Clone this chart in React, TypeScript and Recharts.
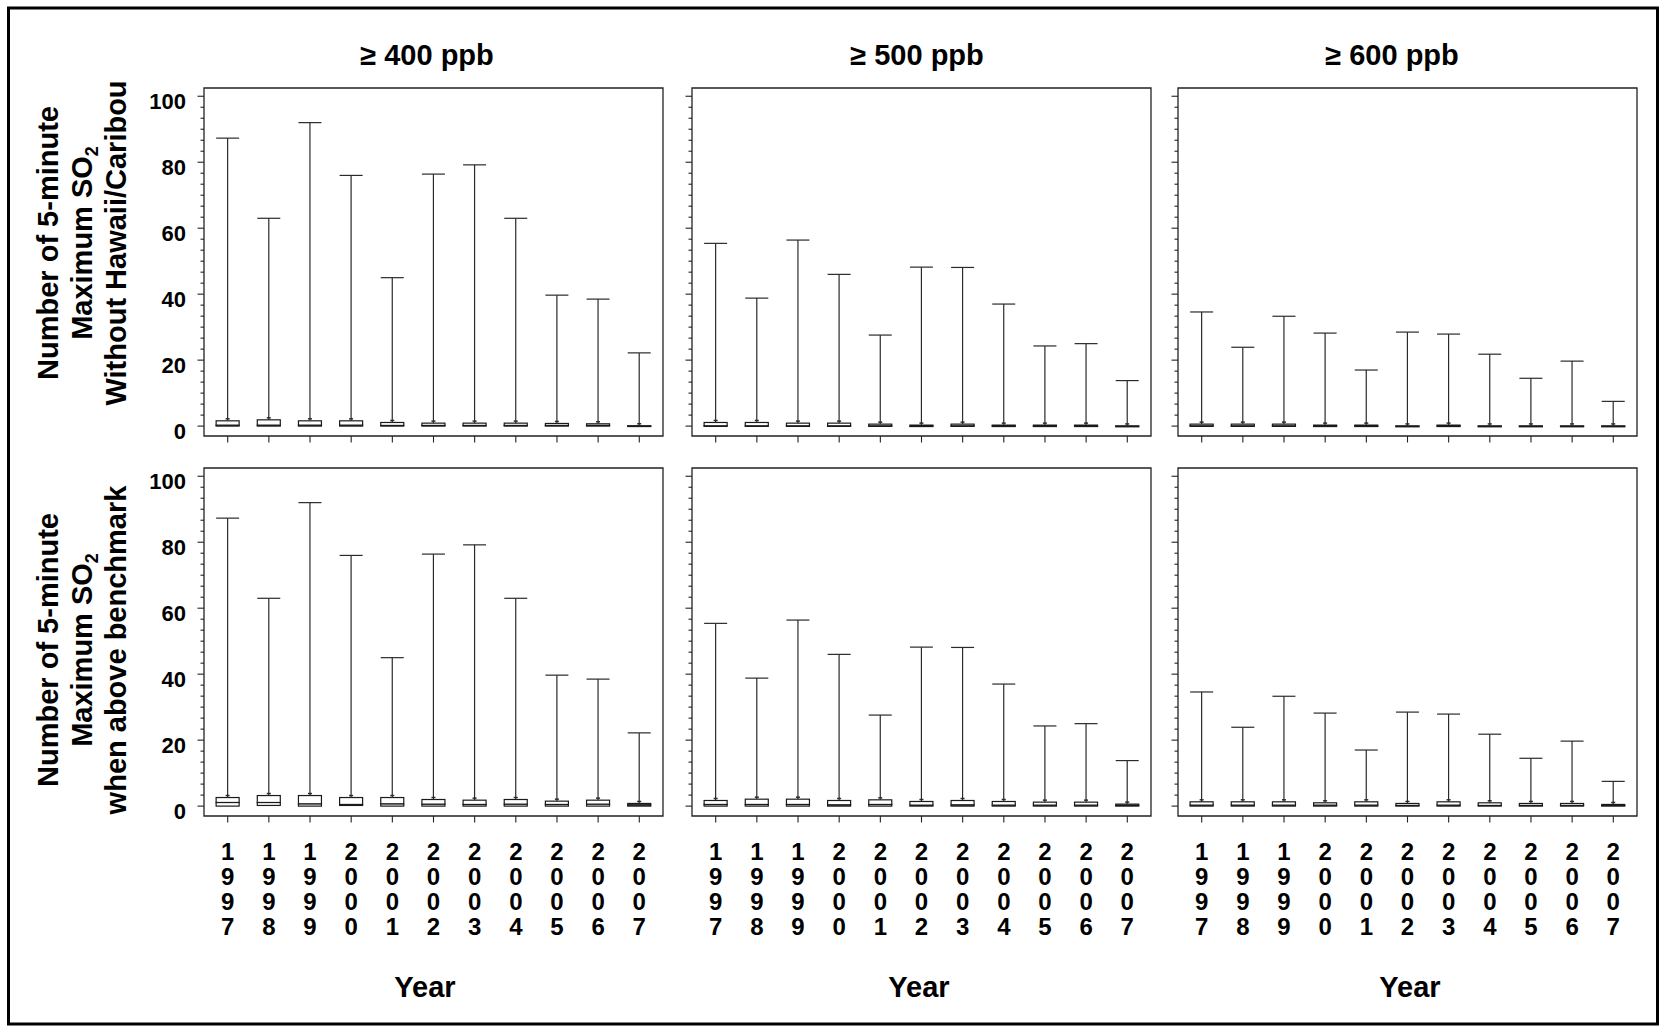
import React from "react";
import { ComposedChart, Bar, XAxis, YAxis, ReferenceArea } from "recharts";

const years = ["1997", "1998", "1999", "2000", "2001", "2002", "2003", "2004", "2005", "2006", "2007"];

// upper whisker ends (maximum count) per benchmark
const max400 = [87.3, 63, 92, 76, 45, 76.4, 79.2, 63, 39.7, 38.5, 22.2];
const max500 = [55.4, 38.8, 56.4, 46, 27.6, 48.2, 48.1, 37, 24.3, 25, 13.8];
const max600 = [34.6, 23.9, 33.3, 28.2, 17, 28.5, 27.9, 21.8, 14.5, 19.7, 7.5];

// boxes, top row: without Hawaii/Caribou
const q3_400a = [1.6, 1.9, 1.6, 1.6, 1.1, 0.9, 0.9, 0.9, 0.8, 0.7, 0.1];
const med_400a = [0.3, 0.3, 0.3, 0.3, 0.2, 0.2, 0.2, 0.2, 0.2, 0.2, 0.05];
const q3_500a = [1.1, 1.1, 0.9, 0.9, 0.6, 0.3, 0.6, 0.3, 0.3, 0.3, 0.05];
const med_500a = [0.1, 0.1, 0.1, 0.1, 0.1, 0.05, 0.1, 0.05, 0.05, 0.05, 0];
const q3_600a = [0.6, 0.6, 0.6, 0.3, 0.3, 0.05, 0.3, 0.05, 0.05, 0.05, 0.05];
const med_600a = [0.1, 0.1, 0.1, 0.05, 0.05, 0, 0.05, 0, 0, 0, 0];

// boxes, bottom row: when above benchmark
const q1_400b = [0, 0.2, 0, 0.2, 0, 0, 0, 0, 0, 0, 0];
const q3_400b = [2.6, 3.2, 3.2, 2.6, 2.6, 2.0, 1.8, 2.0, 1.5, 1.8, 0.8];
const med_400b = [1.1, 1.1, 0.7, 0.5, 0.7, 0.6, 0.5, 0.6, 0.5, 0.6, 0.4];
const q3_500b = [1.7, 2.1, 2.1, 1.7, 1.9, 1.4, 1.7, 1.4, 1.2, 1.2, 0.6];
const med_500b = [0.5, 0.5, 0.5, 0.4, 0.5, 0.3, 0.4, 0.3, 0.3, 0.3, 0.2];
const q3_600b = [1.3, 1.3, 1.3, 1.0, 1.3, 0.8, 1.3, 1.0, 0.8, 0.8, 0.5];
const med_600b = [0.3, 0.3, 0.3, 0.3, 0.3, 0.2, 0.3, 0.2, 0.2, 0.2, 0.2];
const zeros = years.map(() => 0);

const titles = ["\u2265 400 ppb", "\u2265 500 ppb", "\u2265 600 ppb"];
const yMajor = [0, 20, 40, 60, 80, 100];

const FONT = "'Liberation Sans', Arial, Helvetica, sans-serif";
const PANEL_W = 459;
const PANEL_H = 348;
const AXIS_W = 70;
const M_TOP = 10;
const M_RIGHT = 10;
const Y_MIN = -3;
const Y_MAX = 102.5;
const X_MIN = -0.576;
const X_MAX = 10.576;
const colLefts = [204, 691.5, 1178];
const rowTops = [87.5, 468];

// minor ticks: 5 between each labelled pair
const yTicks: number[] = [];
yMajor.forEach((v, i) => {
  yTicks.push(v);
  if (i < yMajor.length - 1) {
    const step = (yMajor[i + 1] - v) / 6;
    for (let k = 1; k < 6; k++) yTicks.push(v + step * k);
  }
});
const xTicks = years.map((_, i) => i);

function buildRows(q1: number[], med: number[], q3: number[], max: number[]) {
  return years.map((year, i) => ({
    idx: i,
    year,
    base: q1[i],
    lower: med[i] - q1[i],
    upper: q3[i] - med[i],
    whisk: max[i] - q3[i],
  }));
}

const panels = [
  [buildRows(zeros, med_400a, q3_400a, max400), buildRows(zeros, med_500a, q3_500a, max500), buildRows(zeros, med_600a, q3_600a, max600)],
  [buildRows(q1_400b, med_400b, q3_400b, max400), buildRows(zeros, med_500b, q3_500b, max500), buildRows(zeros, med_600b, q3_600b, max600)],
];

const BoxShape = (props: any) => {
  const { x, y, width, height } = props;
  if (x == null || y == null) return null;
  return (
    <rect x={x} y={y} width={width} height={Math.max(height, 0.6)} fill="#fff" stroke="#1a1a1a" strokeWidth={1.2} />
  );
};

const WhiskerShape = (props: any) => {
  const { x, y, width, height } = props;
  if (x == null || y == null) return null;
  const cx = x + width / 2;
  const bottom = y + height;
  return (
    <g stroke="#2a2a2a" strokeWidth={1.2}>
      <line x1={cx} y1={bottom} x2={cx} y2={y} />
      <line x1={x} y1={y} x2={x + width} y2={y} />
      <line x1={cx - 2} y1={bottom - 2} x2={cx + 2} y2={bottom - 2} strokeWidth={1.5} />
    </g>
  );
};

const YTick = (props: any) => {
  const { x, y, payload, showLabels } = props;
  const v = payload.value;
  const major = yMajor.some((m) => Math.abs(m - v) < 1e-6);
  return (
    <g>
      <line x1={x - (major ? 6.5 : 3.5)} y1={y} x2={x} y2={y} stroke="#222" strokeWidth={1.1} />
      {showLabels && major && (
        <text x={x - 18} y={y + 13} textAnchor="end" fontFamily={FONT} fontWeight="bold" fontSize={22} fill="#000">
          {Math.round(v)}
        </text>
      )}
    </g>
  );
};

const XTick = (props: any) => {
  const { x, y, payload, showLabels } = props;
  const year = years[payload.value] ?? "";
  return (
    <g>
      <line x1={x} y1={y} x2={x} y2={y + 6.5} stroke="#222" strokeWidth={1.1} />
      {showLabels &&
        year.split("").map((d, k) => (
          <text key={k} x={x} y={y + 44 + k * 25} textAnchor="middle" fontFamily={FONT} fontWeight="bold" fontSize={24} fill="#000">
            {d}
          </text>
        ))}
    </g>
  );
};

function Panel({ rows, left, top, showYLabels, showXLabels }: any) {
  const xH = showXLabels ? 140 : 20;
  return (
    <div style={{ position: "absolute", left: left - AXIS_W, top: top - M_TOP }}>
      <ComposedChart
        width={AXIS_W + PANEL_W + M_RIGHT}
        height={M_TOP + PANEL_H + xH}
        data={rows}
        margin={{ top: M_TOP, right: M_RIGHT, bottom: 0, left: 0 }}
      >
        <XAxis
          type="number"
          dataKey="idx"
          domain={[X_MIN, X_MAX]}
          ticks={xTicks}
          interval={0}
          height={xH}
          tickSize={0}
          tickMargin={0}
          axisLine={false}
          allowDataOverflow
          tick={(p: any) => <XTick {...p} showLabels={showXLabels} />}
        />
        <YAxis
          type="number"
          domain={[Y_MIN, Y_MAX]}
          ticks={yTicks}
          interval={0}
          width={AXIS_W}
          tickSize={0}
          tickMargin={0}
          axisLine={false}
          allowDataOverflow
          tick={(p: any) => <YTick {...p} showLabels={showYLabels} />}
        />
        <ReferenceArea x1={X_MIN} x2={X_MAX} y1={Y_MIN} y2={Y_MAX} fill="none" stroke="#222" strokeWidth={1.3} ifOverflow="visible" />
        <Bar dataKey="base" stackId="b" barSize={23} fill="none" isAnimationActive={false} />
        <Bar dataKey="lower" stackId="b" barSize={23} shape={BoxShape} isAnimationActive={false} />
        <Bar dataKey="upper" stackId="b" barSize={23} shape={BoxShape} isAnimationActive={false} />
        <Bar dataKey="whisk" stackId="b" barSize={23} shape={WhiskerShape} isAnimationActive={false} />
      </ComposedChart>
    </div>
  );
}

const titleX = [427, 917, 1392];
const yearX = [425, 919, 1410];
const yLabelLines = [
  ["Number of 5-minute", "Maximum SO", "Without Hawaii/Caribou"],
  ["Number of 5-minute", "Maximum SO", "when above benchmark"],
];
const yLabelCenter = [243, 650];
const yLabelX = [58, 92, 126];

export default function App() {
  return (
    <div
      style={{
        position: "absolute",
        left: 0,
        top: 0,
        width: 1660,
        height: 1027,
        background: "#fff",
        overflow: "hidden",
        fontFamily: FONT,
      }}
    >
      <svg width={1660} height={1027} style={{ position: "absolute", left: 0, top: 0 }}>
        <rect x={8.5} y={8} width={1649} height={1016} fill="none" stroke="#000" strokeWidth={3} />
        {titles.map((t, i) => (
          <text key={t} x={titleX[i]} y={65} textAnchor="middle" fontFamily={FONT} fontWeight="bold" fontSize={29}>
            {t}
          </text>
        ))}
        {yearX.map((x, i) => (
          <text key={i} x={x} y={997} textAnchor="middle" fontFamily={FONT} fontWeight="bold" fontSize={29}>
            Year
          </text>
        ))}
        {yLabelLines.map((lines, r) =>
          lines.map((line, k) => {
            const x = yLabelX[k];
            const y = yLabelCenter[r];
            return (
              <text
                key={`${r}-${k}`}
                x={x}
                y={y}
                textAnchor="middle"
                fontFamily={FONT}
                fontWeight="bold"
                fontSize={29}
                transform={`rotate(-90 ${x} ${y})`}
              >
                {k === 1 ? (
                  <>
                    <tspan>{line}</tspan>
                    <tspan dy={6} fontSize={18}>2</tspan>
                  </>
                ) : (
                  line
                )}
              </text>
            );
          })
        )}
      </svg>
      {rowTops.map((top, r) =>
        colLefts.map((left, c) => (
          <Panel
            key={`${r}-${c}`}
            rows={panels[r][c]}
            left={left}
            top={top}
            showYLabels={c === 0}
            showXLabels={r === 1}
          />
        ))
      )}
    </div>
  );
}
